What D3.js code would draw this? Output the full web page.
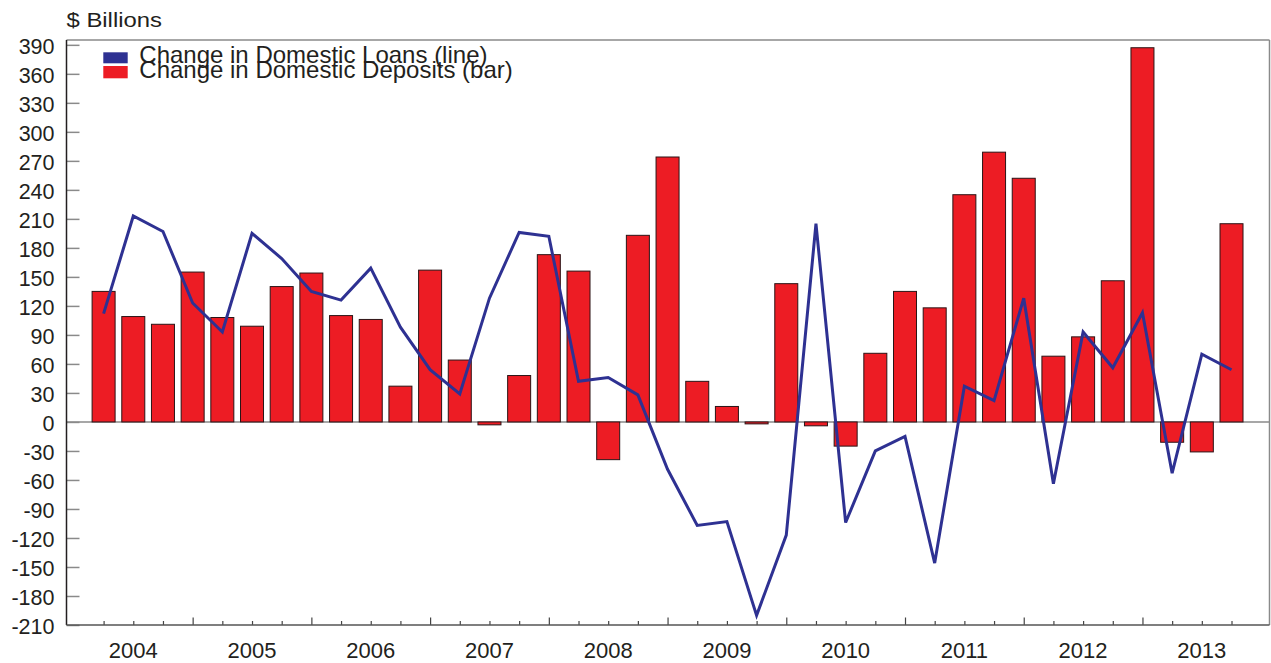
<!DOCTYPE html>
<html>
<head>
<meta charset="utf-8">
<script src="https://cdn.jsdelivr.net/npm/d3@7"></script>
<style>
  html, body { margin: 0; padding: 0; background: #fff; }
  svg { display: block; }
  text { font-family: "Liberation Sans", Arial, Helvetica, sans-serif; fill: #231F20; }
</style>
</head>
<body>
<svg id="chart" width="1271" height="663"></svg>
<script>
// Quarterly periods, 2004 Q1 through 2013 Q3
const quarters = [
  "2004Q1","2004Q2","2004Q3","2004Q4",
  "2005Q1","2005Q2","2005Q3","2005Q4",
  "2006Q1","2006Q2","2006Q3","2006Q4",
  "2007Q1","2007Q2","2007Q3","2007Q4",
  "2008Q1","2008Q2","2008Q3","2008Q4",
  "2009Q1","2009Q2","2009Q3","2009Q4",
  "2010Q1","2010Q2","2010Q3","2010Q4",
  "2011Q1","2011Q2","2011Q3","2011Q4",
  "2012Q1","2012Q2","2012Q3","2012Q4",
  "2013Q1","2013Q2","2013Q3"
];

// Change in domestic deposits, $ billions (bars)
const deposits = [
  135, 109, 101, 155,
  108, 99, 140, 154,
  110, 106, 37, 157,
  64, -3, 48, 173,
  156, -39, 193, 274,
  42, 16, -2, 143,
  -4, -25, 71, 135,
  118, 235, 279, 252,
  68, 88, 146, 387,
  -21, -31, 205
];

// Change in domestic loans, $ billions (line)
const loans = [
  112, 213, 197, 123,
  93, 195, 169, 135,
  126, 159, 98, 54,
  29, 128, 196, 192,
  42, 46, 28, -49,
  -107, -103, -200, -117,
  205, -104, -30, -15,
  -146, 37, 22, 128,
  -64, 93, 56, 113,
  -53, 70, 54
];

const yearLabels = ["2004","2005","2006","2007","2008","2009","2010","2011","2012","2013"];
const yTicks = d3.range(-210, 391, 30);

const seriesNames = ["Change in Domestic Loans (line)", "Change in Domestic Deposits (bar)"];
const colLoans = "#2E3192";
const colDeposits = "#ED1C24";

const svg = d3.select("#chart");

const plot = { left: 66.5, right: 1269.5, top: 40, bottom: 625 };

const x = d3.scaleLinear()
  .domain([-1.25, quarters.length + 0.28])
  .range([plot.left, plot.right]);

const y = d3.scaleLinear()
  .domain([-210, 395])
  .range([plot.bottom, plot.top]);

const step = x(1) - x(0);
const barW = step * 0.775;

// Frame: light top and right edges
svg.append("line")
  .attr("x1", plot.left).attr("x2", plot.right)
  .attr("y1", plot.top).attr("y2", plot.top)
  .attr("stroke", "#8a8a8a").attr("stroke-width", 1.5);
svg.append("line")
  .attr("x1", plot.right).attr("x2", plot.right)
  .attr("y1", plot.top).attr("y2", plot.bottom)
  .attr("stroke", "#8a8a8a").attr("stroke-width", 1.5);

// Zero baseline
svg.append("line")
  .attr("x1", plot.left).attr("x2", plot.right)
  .attr("y1", y(0)).attr("y2", y(0))
  .attr("stroke", "#8a8a8a").attr("stroke-width", 1.5);

// Deposit bars
svg.append("g")
  .selectAll("rect")
  .data(deposits)
  .join("rect")
  .attr("x", (d, i) => x(i) - barW / 2)
  .attr("y", d => y(Math.max(0, d)))
  .attr("width", barW)
  .attr("height", d => Math.abs(y(d) - y(0)))
  .attr("fill", colDeposits)
  .attr("stroke", "#2b1416")
  .attr("stroke-width", 1);

// Y axis: ticks pointing into the plot, labels on the left
const yAxis = d3.axisRight(y)
  .tickValues(yTicks)
  .tickSize(13)
  .tickFormat("");
const yg = svg.append("g")
  .attr("transform", `translate(${plot.left},0)`)
  .call(yAxis);
yg.select(".domain").remove();
yg.selectAll(".tick line").attr("stroke", "#8a8a8a").attr("stroke-width", 1.5);

svg.append("g")
  .selectAll("text")
  .data(yTicks)
  .join("text")
  .attr("x", 54.5)
  .attr("y", d => y(d) + 1.5)
  .attr("dy", "0.36em")
  .attr("text-anchor", "end")
  .attr("font-size", 21.5)
  .text(d => d);

svg.append("line")
  .attr("x1", plot.left).attr("x2", plot.left)
  .attr("y1", plot.top).attr("y2", plot.bottom)
  .attr("stroke", "#231F20").attr("stroke-width", 1.5);

// X axis: quarter ticks, longer at each year's fourth quarter
const xAxis = d3.axisTop(x)
  .tickValues(d3.range(quarters.length))
  .tickSize(4)
  .tickFormat("");
const xg = svg.append("g")
  .attr("transform", `translate(0,${plot.bottom})`)
  .call(xAxis);
xg.select(".domain").remove();
xg.selectAll(".tick line")
  .attr("stroke", "#444")
  .attr("stroke-width", 1.2)
  .attr("y2", (d) => (d % 4 === 3 ? -7.5 : -4));

svg.append("line")
  .attr("x1", plot.left).attr("x2", plot.right)
  .attr("y1", plot.bottom).attr("y2", plot.bottom)
  .attr("stroke", "#555").attr("stroke-width", 1.5);

svg.append("g")
  .selectAll("text")
  .data(yearLabels)
  .join("text")
  .attr("x", (d, i) => x(i * 4 + 1))
  .attr("y", 658)
  .attr("text-anchor", "middle")
  .attr("font-size", 22)
  .text(d => d);

// Loans line
const line = d3.line()
  .x((d, i) => x(i))
  .y(d => y(d));

svg.append("path")
  .datum(loans)
  .attr("d", line)
  .attr("fill", "none")
  .attr("stroke", colLoans)
  .attr("stroke-width", 3)
  .attr("stroke-linejoin", "miter");

// Unit label
svg.append("text")
  .attr("x", 66.5)
  .attr("y", 27.3)
  .attr("font-size", 21)
  .attr("textLength", 95.5)
  .attr("lengthAdjust", "spacingAndGlyphs")
  .text("$ Billions");

// Legend
const legend = svg.append("g");
const legendRows = [
  { name: seriesNames[0], color: colLoans, ry: 52.3, rh: 11, ty: 62.8 },
  { name: seriesNames[1], color: colDeposits, ry: 66, rh: 12.3, ty: 78 }
];
legendRows.forEach(r => {
  legend.append("rect")
    .attr("x", 103.3).attr("y", r.ry)
    .attr("width", 24.4).attr("height", r.rh)
    .attr("fill", r.color);
  legend.append("text")
    .attr("x", 139.3).attr("y", r.ty)
    .attr("font-size", 24)
    .text(r.name);
});
</script>
</body>
</html>
